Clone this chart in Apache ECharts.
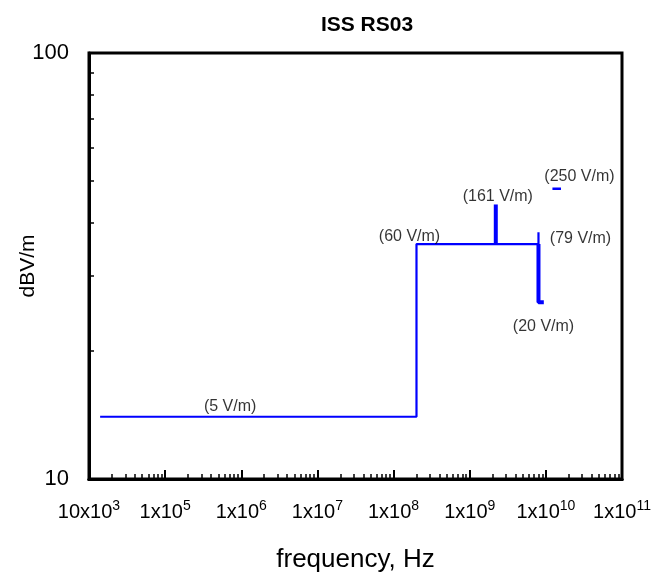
<!DOCTYPE html>
<html>
<head>
<meta charset="utf-8">
<title>ISS RS03</title>
<script src="https://cdn.jsdelivr.net/npm/echarts@6/dist/echarts.min.js"></script>
<style>
    html, body { margin: 0; padding: 0; background: #fff; }
    #chart { width: 656px; height: 580px; }
</style>
</head>
<body>
<div id="chart"></div>
<script>
    // limit levels in dBV/m, frequencies in Hz
    const baseFreq = [14e3, 200e6, 200e6, 8e9];
    const baseLevel = [14, 14, 35.6, 35.6];
    const spike161Freq = [2.2e9, 2.2e9];
    const spike161Level = [35.6, 44.1];
    const line79Freq = [8e9, 8e9];
    const line79Level = [35.6, 37.95];
    const line20Freq = [8e9, 8e9, 9.4e9];
    const line20Level = [35.6, 26, 26];
    const dash250Freq = [1.22e10, 1.58e10];
    const dash250Level = [48, 48];

    const noteText = ['(5 V/m)', '(60 V/m)', '(161 V/m)', '(79 V/m)', '(20 V/m)', '(250 V/m)'];
    const noteFreq = [14e3, 200e6, 2.2e9, 8e9, 8e9, 1.22e10];
    const noteLevel = [14, 35.6, 44.1, 37.95, 26, 48];

    const decadeTicks = [1e4, 1e5, 1e6, 1e7, 1e8, 1e9, 1e10, 1e11];
    const decadeLabels = ['10x10{s|3}', '1x10{s|5}', '1x10{s|6}', '1x10{s|7}', '1x10{s|8}', '1x10{s|9}', '1x10{s|10}', '1x10{s|11}'];

    const FONT = 'Liberation Sans, Arial, sans-serif';
    const BLUE = '#0000ff';

    function zip(xs, ys) {
        return xs.map((x, i) => [x, ys[i]]);
    }

    // minor ticks for log axes: 2..9 times each decade
    const xMinor = [];
    for (let e = 4; e < 11; e++) {
        for (let k = 2; k <= 9; k++) xMinor.push(k * Math.pow(10, e));
    }
    const yMinor = [20, 30, 40, 50, 60, 70, 80, 90];

    // label placement relative to its anchor point, in pixels
    const noteOffset = [[130, -10], [-7, -7], [2, -8], [42, 6], [5, 24], [27, -12]];

    function labelFor(v) {
        let e = v > 100 ? Math.round(Math.log10(v)) : Math.round(v);
        let idx = decadeTicks.findIndex(t => Math.round(Math.log10(t)) === e);
        return idx >= 0 ? decadeLabels[idx] : '';
    }

    const xBase = {
        type: 'log',
        logBase: 10,
        min: 1e4,
        max: 1e11,
        position: 'bottom',
        splitLine: { show: false },
        axisLine: { show: true, onZero: false, lineStyle: { color: '#000', width: 3 } }
    };

    const lineSeries = (name, data, width) => ({
        name: name,
        type: 'line',
        data: data,
        symbol: 'none',
        silent: true,
        lineStyle: { color: BLUE, width: width },
        z: 3
    });

    const option = {
        backgroundColor: '#fff',
        animation: false,
        title: {
            text: 'ISS RS03',
            left: 362,
            top: 10,
            textAlign: 'center',
            textStyle: { fontFamily: FONT, fontSize: 21, fontWeight: 'bold', color: '#000' }
        },
        grid: {
            left: 89, right: 34, top: 53, bottom: 101,
            outerBoundsMode: 'none',
            containLabel: false,
            show: true,
            borderColor: '#000',
            borderWidth: 3
        },
        xAxis: [
            Object.assign({}, xBase, {
                name: 'frequency, Hz',
                nameLocation: 'middle',
                nameGap: 68,
                nameMoveOverlap: false,
                nameTextStyle: { fontFamily: FONT, fontSize: 26, color: '#000' },
                axisTick: { show: true, inside: true, length: 9, customValues: decadeTicks.slice(1, 7), lineStyle: { color: '#000', width: 2 } },
                axisLabel: {
                    show: true,
                    customValues: decadeTicks,
                    margin: 20,
                    fontFamily: FONT,
                    fontSize: 20,
                    color: '#000',
                    formatter: labelFor,
                    rich: { s: { fontFamily: FONT, fontSize: 14, color: '#000', verticalAlign: 'top', padding: [0, 0, 12, 0] } }
                }
            }),
            Object.assign({}, xBase, {
                axisTick: { show: true, inside: true, length: 5, customValues: xMinor, lineStyle: { color: '#000', width: 1.5 } },
                axisLabel: { show: false }
            })
        ],
        yAxis: {
            type: 'log',
            logBase: 10,
            min: 10,
            max: 100,
            name: 'dBV/m',
            nameLocation: 'middle',
            nameGap: 50,
            nameMoveOverlap: false,
            nameRotate: 90,
            nameTextStyle: { fontFamily: FONT, fontSize: 21, color: '#000' },
            splitLine: { show: false },
            axisLine: { show: true, lineStyle: { color: '#000', width: 3 } },
            axisTick: { show: true, inside: true, length: 5, customValues: yMinor, lineStyle: { color: '#000', width: 1.5 } },
            axisLabel: { margin: 20, fontFamily: FONT, fontSize: 22, color: '#000' }
        },
        series: [
            lineSeries('base', zip(baseFreq, baseLevel), 2.2),
            lineSeries('161 V/m', zip(spike161Freq, spike161Level), 4),
            lineSeries('79 V/m', zip(line79Freq, line79Level), 2.2),
            lineSeries('20 V/m', zip(line20Freq, line20Level), 4),
            lineSeries('250 V/m', zip(dash250Freq, dash250Level), 2.5),
            {
                name: 'notes',
                type: 'scatter',
                symbolSize: 0,
                silent: true,
                z: 4,
                data: noteText.map((t, i) => ({
                    value: [noteFreq[i], noteLevel[i]],
                    label: {
                        show: true,
                        formatter: t,
                        position: 'inside',
                        offset: noteOffset[i],
                        align: 'center',
                        verticalAlign: 'middle',
                        fontFamily: FONT,
                        fontSize: 16,
                        color: '#000'
                    }
                }))
            }
        ]
    };

    const chart = echarts.init(document.getElementById('chart'));
    chart.setOption(option);
</script>
</body>
</html>
